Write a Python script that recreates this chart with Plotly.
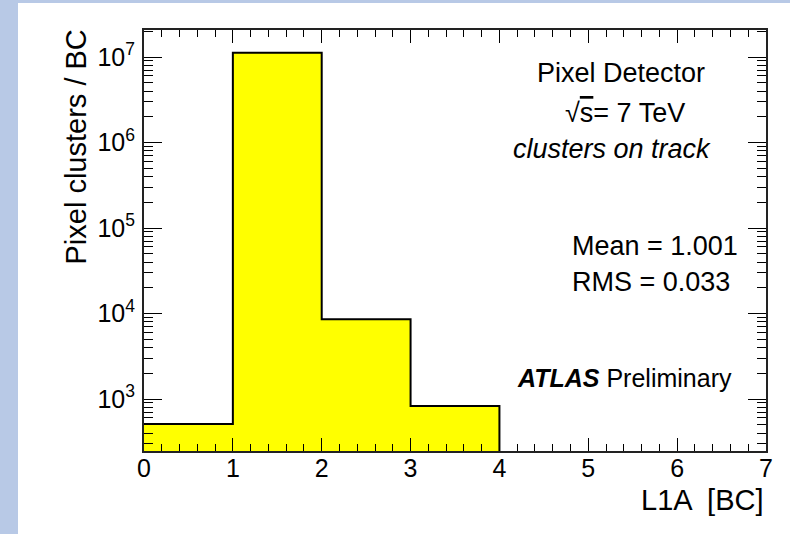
import plotly.graph_objects as go
import numpy as np

# ---- data ----
bin_edges = [0, 1, 2, 3, 4]
counts = [510, 1.12e7, 8550, 830]          # Pixel clusters / BC per L1A bin
x_ticks = [0, 1, 2, 3, 4, 5, 6, 7]
y_tick_vals = [1e3, 1e4, 1e5, 1e6, 1e7]
y_tick_text = ["10<sup>3</sup>", "10<sup>4</sup>", "10<sup>5</sup>", "10<sup>6</sup>", "10<sup>7</sup>"]
x_range = [0, 7]
y_range_log = [2.392, 7.316]

W, H = 790, 534
ML, MR, MT, MB = 144, 24, 30, 83
PW, PH = W - ML - MR, H - MT - MB

def px(x):
    return (x - ML) / PW

def py(y):
    return (H - MB - y) / PH

FONT = "Liberation Sans, Arial, Helvetica, sans-serif"

centers = [(bin_edges[i] + bin_edges[i + 1]) / 2 for i in range(len(counts))]
widths = [bin_edges[i + 1] - bin_edges[i] for i in range(len(counts))]

y_floor = 10 ** (y_range_log[0] - 1)
step_x = bin_edges[:-1] + [bin_edges[-1], bin_edges[-1]]
step_y = counts + [counts[-1], y_floor]

fig = go.Figure()
fig.add_trace(go.Bar(x=centers, y=counts, width=widths,
                     marker=dict(color="#ffff00", line=dict(width=0)),
                     showlegend=False, hoverinfo="skip"))
fig.add_trace(go.Scatter(x=step_x, y=step_y, mode="lines",
                         line=dict(color="black", width=2, shape="hv"),
                         showlegend=False, hoverinfo="skip"))

minor_y = [k * 10 ** d for d in range(2, 8) for k in range(2, 10)]

fig.update_xaxes(range=x_range, tickvals=x_ticks, ticks="inside", ticklen=13,
                 tickwidth=1, tickcolor="black", showline=True, linewidth=2,
                 linecolor="#222222", mirror="allticks", showgrid=False,
                 zeroline=False, tickfont=dict(family=FONT, size=25, color="black"),
                 ticklabelstandoff=-6,
                 minor=dict(dtick=0.2, tick0=0, ticks="inside", ticklen=7,
                            tickwidth=1, tickcolor="black", showgrid=False))
fig.update_yaxes(type="log", range=y_range_log, tickvals=y_tick_vals,
                 ticktext=y_tick_text, ticks="inside", ticklen=18, tickwidth=1,
                 tickcolor="black", showline=True, linewidth=2,
                 linecolor="#222222", mirror="allticks", showgrid=False,
                 zeroline=False, tickfont=dict(family=FONT, size=25, color="black"),
                 ticklabelstandoff=2,
                 minor=dict(tickvals=minor_y, ticks="inside", ticklen=9,
                            tickwidth=1, tickcolor="black", showgrid=False))

ann = []
def add(text, x, y, xanchor="center", yanchor="middle", size=27, angle=0):
    ann.append(dict(text=text, x=x, y=y, xref="paper", yref="paper",
                    xanchor=xanchor, yanchor=yanchor, showarrow=False,
                    textangle=angle, font=dict(family=FONT, size=size, color="black")))

add("Pixel Detector", px(621), py(73))
add("√<span style='text-decoration:overline'>s</span>= 7 TeV", px(625), py(113))
add("<i>clusters on track</i>", px(612), py(149))
add("Mean = 1.001", px(570), py(246), xanchor="left")
add("RMS = 0.033", px(570), py(282), xanchor="left")
add("<b><i>ATLAS</i></b> Preliminary", px(515), py(378), xanchor="left", size=25)
add("L1A  [BC]", px(766), py(500), xanchor="right", size=29)
add("Pixel clusters / BC", px(75), py(28), xanchor="center", yanchor="top",
    size=29, angle=-90)

blue = "#b8c9e6"
shapes = [
    dict(type="rect", xref="paper", yref="paper", x0=px(0), x1=px(18),
         y0=py(H), y1=py(0), fillcolor=blue, line=dict(width=0), layer="below"),
    dict(type="rect", xref="paper", yref="paper", x0=px(0), x1=px(W),
         y0=py(3), y1=py(0), fillcolor=blue, line=dict(width=0), layer="below"),
]

fig.update_layout(width=W, height=H, margin=dict(l=ML, r=MR, t=MT, b=MB),
                  paper_bgcolor="white", plot_bgcolor="white",
                  annotations=ann, shapes=shapes, bargap=0,
                  font=dict(family=FONT))

fig.write_html("out.html")
